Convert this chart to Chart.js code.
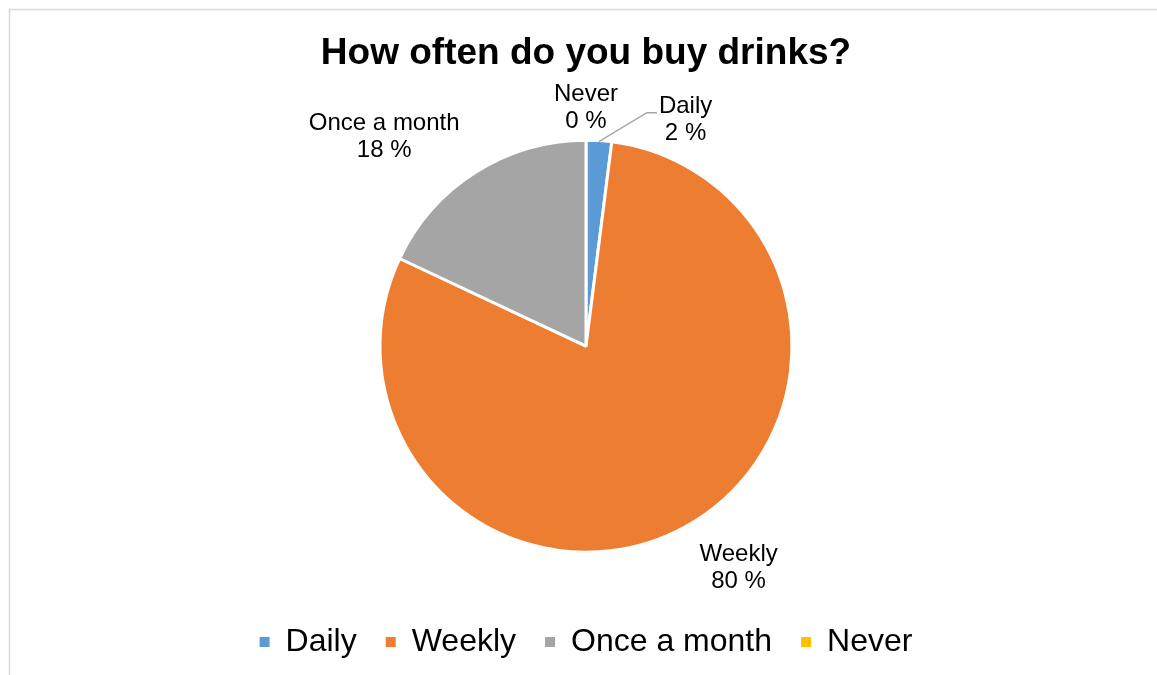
<!DOCTYPE html>
<html>
<head>
<meta charset="utf-8">
<script src="https://cdn.jsdelivr.net/npm/chart.js@4/dist/chart.umd.min.js"></script>
<style>
  html, body { margin: 0; padding: 0; background: #fff; }
  canvas { display: block; }
</style>
</head>
<body>
<canvas id="drinksPie" width="1157" height="675"></canvas>
<script>
// Survey answers (percent of respondents)
const categories = ["Daily", "Weekly", "Once a month", "Never"];
const shares = [2, 80, 18, 0];
const sliceColors = ['#5B9BD5', '#ED7D31', '#A5A5A5', '#FFC000'];

const FONT = "'Liberation Sans', Arial, sans-serif";

// light frame round the chart (cut off on the right and bottom)
const framePlugin = {
  id: 'frame',
  beforeDraw(chart) {
    const c = chart.ctx;
    c.save();
    c.fillStyle = '#fff';
    c.fillRect(0, 0, chart.width, chart.height);
    c.strokeStyle = '#d9d9d9';
    c.lineWidth = 1.5;
    c.beginPath();
    c.moveTo(9.5, chart.height);
    c.lineTo(9.5, 9.5);
    c.lineTo(chart.width, 9.5);
    c.stroke();
    c.restore();
  }
};

// category name + percent outside each slice, like Excel's outside-end labels
const outsideLabels = {
  id: 'outsideLabels',
  afterDatasetsDraw(chart, args, opts) {
    const c = chart.ctx;
    const meta = chart.getDatasetMeta(0);
    const values = chart.data.datasets[0].data;
    const total = values.reduce((a, b) => a + b, 0);
    const lh = opts.lineHeight;
    c.save();
    c.font = opts.fontSize + 'px ' + FONT;
    c.fillStyle = '#000';
    c.textBaseline = 'middle';
    meta.data.forEach((arc, i) => {
      const p = arc.getProps(['x', 'y', 'startAngle', 'endAngle', 'outerRadius'], true);
      const mid = (p.startAngle + p.endAngle) / 2;
      const r = p.outerRadius + opts.gap;
      const shift = (opts.shift || {})[i] || [0, 0];
      const ax = p.x + Math.cos(mid) * r + shift[0];
      const ay = p.y + Math.sin(mid) * r + shift[1];
      const lines = [chart.data.labels[i], Math.round(values[i] / total * 100) + ' %'];
      const lead = (opts.leader || {})[i];

      if (lead) {
        // pushed aside: leader line from the slice edge, text to the right
        const ex = p.x + Math.cos(mid) * (p.outerRadius - 1);
        const ey = p.y + Math.sin(mid) * (p.outerRadius - 1);
        const bx = ax + lead[0], by = ay + lead[1];
        c.strokeStyle = '#a6a6a6';
        c.lineWidth = 1.5;
        c.beginPath();
        c.moveTo(ex, ey);
        c.lineTo(bx, by);
        c.lineTo(bx + 10, by);
        c.stroke();
        const w0 = c.measureText(lines[0]).width;
        c.textAlign = 'center';
        c.fillText(lines[0], bx + 12 + w0 / 2, by - lh / 2 + 7);
        c.fillText(lines[1], bx + 12 + w0 / 2, by + lh / 2 + 7);
        return;
      }

      const sx = Math.cos(mid);
      const upper = Math.sin(mid) < 0;
      const w0 = c.measureText(lines[0]).width;
      // centre of the text block, horizontally
      let cx = ax;
      if (Math.abs(sx) >= 0.2) cx = sx > 0 ? ax + w0 / 2 : ax - w0 / 2;
      const y0 = upper ? ay - lh * 1.5 : ay + lh / 2;
      c.textAlign = 'center';
      c.fillText(lines[0], cx, y0);
      c.fillText(lines[1], cx, y0 + lh);
    });
    c.restore();
  }
};

const ctx = document.getElementById('drinksPie').getContext('2d');
new Chart(ctx, {
  type: 'pie',
  data: {
    labels: categories,
    datasets: [{
      data: shares,
      backgroundColor: sliceColors,
      borderColor: '#ffffff',
      borderWidth: 3,
      hoverOffset: 0
    }]
  },
  options: {
    responsive: false,
    animation: false,
    radius: 206,
    layout: { padding: { left: 15, right: 0, top: 0, bottom: 7 } },
    plugins: {
      title: {
        display: true,
        text: 'How often do you buy drinks?',
        color: '#000',
        font: { family: FONT, size: 37, weight: 'bold' },
        padding: { top: 32, bottom: 19 }
      },
      legend: {
        position: 'bottom',
        labels: {
          color: '#000',
          font: { family: FONT, size: 32 },
          boxWidth: 10,
          boxHeight: 10,
          padding: 29,
          // plain filled squares, without the white slice border
          generateLabels(chart) {
            return Chart.overrides.pie.plugins.legend.labels.generateLabels(chart)
              .map(l => Object.assign(l, { lineWidth: 0 }));
          }
        }
      },
      tooltip: { enabled: false },
      outsideLabels: {
        fontSize: 24,
        lineHeight: 27,
        gap: 15,
        shift: { 1: [7, 1], 2: [-8, 4], 3: [0, 10] },
        leader: { 0: [47, -13] }
      }
    }
  },
  plugins: [framePlugin, outsideLabels]
});
</script>
</body>
</html>
